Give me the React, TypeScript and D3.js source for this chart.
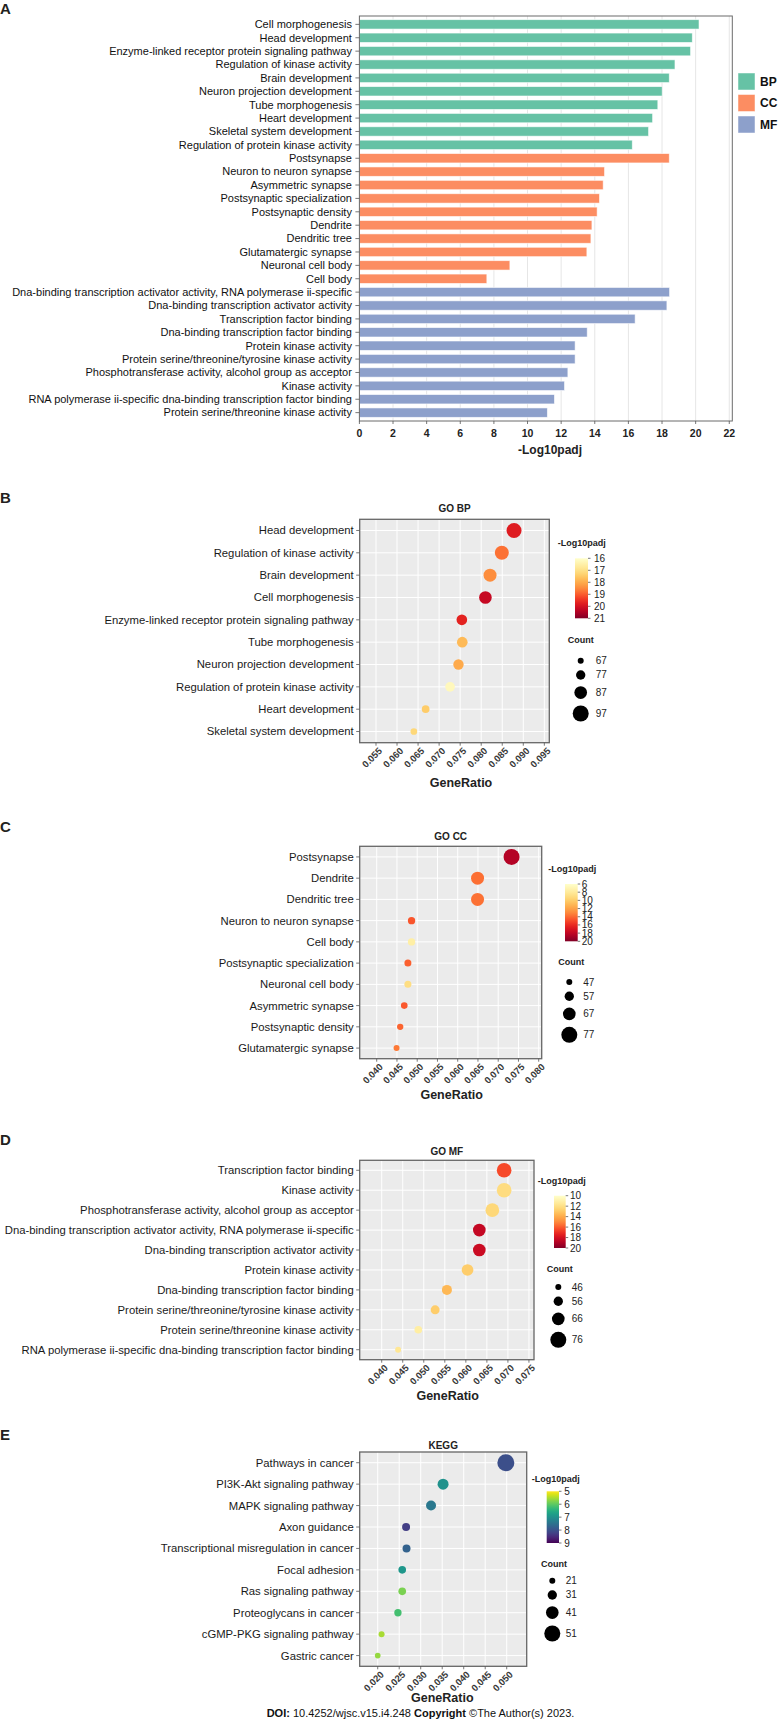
import React from 'react';
import * as d3 from 'd3';

// ---------------- Panel A data ----------------
const aTerms = [
  'Cell morphogenesis', 'Head development', 'Enzyme-linked receptor protein signaling pathway',
  'Regulation of kinase activity', 'Brain development', 'Neuron projection development',
  'Tube morphogenesis', 'Heart development', 'Skeletal system development',
  'Regulation of protein kinase activity',
  'Postsynapse', 'Neuron to neuron synapse', 'Asymmetric synapse', 'Postsynaptic specialization',
  'Postsynaptic density', 'Dendrite', 'Dendritic tree', 'Glutamatergic synapse',
  'Neuronal cell body', 'Cell body',
  'Dna-binding transcription activator activity, RNA polymerase ii-specific',
  'Dna-binding transcription activator activity', 'Transcription factor binding',
  'Dna-binding transcription factor binding', 'Protein kinase activity',
  'Protein serine/threonine/tyrosine kinase activity',
  'Phosphotransferase activity, alcohol group as acceptor', 'Kinase activity',
  'RNA polymerase ii-specific dna-binding transcription factor binding',
  'Protein serine/threonine kinase activity',
];
const aValues = [
  20.2, 19.8, 19.7, 18.77, 18.43, 18.01, 17.75, 17.44, 17.2, 16.23,
  18.43, 14.58, 14.5, 14.28, 14.14, 13.83, 13.77, 13.53, 8.95, 7.58,
  18.45, 18.29, 16.4, 13.55, 12.83, 12.83, 12.4, 12.2, 11.6, 11.18,
];
const aGroups = [
  'BP', 'BP', 'BP', 'BP', 'BP', 'BP', 'BP', 'BP', 'BP', 'BP',
  'CC', 'CC', 'CC', 'CC', 'CC', 'CC', 'CC', 'CC', 'CC', 'CC',
  'MF', 'MF', 'MF', 'MF', 'MF', 'MF', 'MF', 'MF', 'MF', 'MF',
];
const aTicks = [0, 2, 4, 6, 8, 10, 12, 14, 16, 18, 20, 22];
const groupNames = ['BP', 'CC', 'MF'];
const groupColors = ['#66c2a5', '#fc8d62', '#8da0cb'];

// ---------------- Panel B data (GO BP) ----------------
const bpTerms = [
  'Head development', 'Regulation of kinase activity', 'Brain development', 'Cell morphogenesis',
  'Enzyme-linked receptor protein signaling pathway', 'Tube morphogenesis',
  'Neuron projection development', 'Regulation of protein kinase activity',
  'Heart development', 'Skeletal system development',
];
const bpRatio = [0.0878, 0.0849, 0.0821, 0.081, 0.0754, 0.0755, 0.0746, 0.0726, 0.0668, 0.064];
const bpCount = [94, 91, 88, 87, 81, 81, 80, 78, 72, 69];
const bpPadj = [19.8, 18.77, 18.43, 20.2, 19.7, 17.75, 18.01, 16.23, 17.44, 17.2];
const bpRatioTicks = [0.055, 0.06, 0.065, 0.07, 0.075, 0.08, 0.085, 0.09, 0.095];
const bpPadjTicks = [16, 17, 18, 19, 20, 21];
const bpCountTicks = [67, 77, 87, 97];

// ---------------- Panel C data (GO CC) ----------------
const ccTerms = [
  'Postsynapse', 'Dendrite', 'Dendritic tree', 'Neuron to neuron synapse', 'Cell body',
  'Postsynaptic specialization', 'Neuronal cell body', 'Asymmetric synapse',
  'Postsynaptic density', 'Glutamatergic synapse',
];
const ccRatio = [0.0733, 0.0649, 0.0649, 0.0486, 0.0486, 0.0477, 0.0477, 0.0468, 0.0458, 0.0449];
const ccCount = [77, 68, 68, 51, 51, 50, 50, 49, 48, 47];
const ccPadj = [18.43, 13.83, 13.77, 14.58, 7.58, 14.28, 8.95, 14.5, 14.14, 13.53];
const ccRatioTicks = [0.04, 0.045, 0.05, 0.055, 0.06, 0.065, 0.07, 0.075, 0.08];
const ccPadjTicks = [6, 8, 10, 12, 14, 16, 18, 20];
const ccCountTicks = [47, 57, 67, 77];

// ---------------- Panel D data (GO MF) ----------------
const mfTerms = [
  'Transcription factor binding', 'Kinase activity',
  'Phosphotransferase activity, alcohol group as acceptor',
  'Dna-binding transcription activator activity, RNA polymerase ii-specific',
  'Dna-binding transcription activator activity', 'Protein kinase activity',
  'Dna-binding transcription factor binding', 'Protein serine/threonine/tyrosine kinase activity',
  'Protein serine/threonine kinase activity',
  'RNA polymerase ii-specific dna-binding transcription factor binding',
];
const mfRatio = [0.0691, 0.0691, 0.0663, 0.0632, 0.0632, 0.0604, 0.0555, 0.0527, 0.0487, 0.0439];
const mfCount = [72, 72, 69, 66, 66, 63, 58, 55, 51, 46];
const mfPadj = [16.4, 12.2, 12.4, 18.45, 18.29, 12.83, 13.55, 12.83, 11.18, 11.6];
const mfRatioTicks = [0.04, 0.045, 0.05, 0.055, 0.06, 0.065, 0.07, 0.075];
const mfPadjTicks = [10, 12, 14, 16, 18, 20];
const mfCountTicks = [46, 56, 66, 76];

// ---------------- Panel E data (KEGG) ----------------
const kgTerms = [
  'Pathways in cancer', 'PI3K-Akt signaling pathway', 'MAPK signaling pathway', 'Axon guidance',
  'Transcriptional misregulation in cancer', 'Focal adhesion', 'Ras signaling pathway',
  'Proteoglycans in cancer', 'cGMP-PKG signaling pathway', 'Gastric cancer',
];
const kgRatio = [0.0498, 0.0352, 0.0324, 0.0266, 0.0267, 0.0257, 0.0257, 0.0247, 0.0209, 0.02];
const kgCount = [54, 36, 33, 27, 27, 26, 26, 25, 21, 20];
const kgPadj = [8.04, 6.96, 7.4, 8.28, 7.76, 6.88, 5.8, 6.2, 5.52, 5.64];
const kgRatioTicks = [0.02, 0.025, 0.03, 0.035, 0.04, 0.045, 0.05];
const kgPadjTicks = [5, 6, 7, 8, 9];
const kgCountTicks = [21, 31, 41, 51];

// ---------------- styles ----------------
const SANS = "'Liberation Sans', Arial, sans-serif";
const INK = '#231f20';

const ylorrd = (t: number) => d3.interpolateYlOrRd(t);
const viridisRev = (t: number) => d3.interpolateViridis(1 - t);

function PanelA() {
  const L = 359.4, R = 732.3, T = 16, B = 421;
  const x = d3.scaleLinear().domain([0, 22.18]).range([L, R]);
  const y = d3.scaleBand<string>().domain(aTerms).range([T + 1, B - 1]).paddingInner(0.3).paddingOuter(0.2);
  const color = d3.scaleOrdinal<string, string>().domain(groupNames).range(groupColors);
  return (
    <g>
      <text x={0} y={14} fontFamily={SANS} fontWeight="bold" fontSize={15} fill={INK}>A</text>
      {aTicks.map(t => (
        <line key={'g' + t} x1={x(t)} x2={x(t)} y1={T} y2={B} stroke="#e6e6e6" strokeWidth={1} />
      ))}
      {aTerms.map((term, i) => (
        <rect key={term} x={x(0)} y={y(term)} width={x(aValues[i]) - x(0)} height={y.bandwidth()}
          fill={color(aGroups[i])} stroke="rgba(255,255,255,0.7)" strokeWidth={0.8} />
      ))}
      <rect x={L} y={T} width={R - L} height={B - T} fill="none" stroke="#6b6b6b" strokeWidth={1} />
      {aTerms.map(term => {
        const cy = (y(term) as number) + y.bandwidth() / 2;
        return (
          <g key={'l' + term}>
            <line x1={L - 4} x2={L} y1={cy} y2={cy} stroke="#555" strokeWidth={0.8} />
            <text x={L - 7.5} y={cy} dy="0.35em" textAnchor="end" fontFamily={SANS} fontSize={11} fill="#111">{term}</text>
          </g>
        );
      })}
      {aTicks.map(t => (
        <g key={'t' + t}>
          <line x1={x(t)} x2={x(t)} y1={B} y2={B + 3} stroke="#555" strokeWidth={0.8} />
          <text x={x(t)} y={437} textAnchor="middle" fontFamily={SANS} fontWeight="bold" fontSize={10.5} fill="#222">{t}</text>
        </g>
      ))}
      <text x={550} y={454} textAnchor="middle" fontFamily={SANS} fontWeight="bold" fontSize={12} fill="#222">-Log10padj</text>
      {groupNames.map((g, i) => (
        <g key={g}>
          <rect x={738} y={73 + i * 21.5} width={17} height={17} fill={groupColors[i]} stroke="rgba(255,255,255,0.6)" strokeWidth={0.8} />
          <text x={760} y={81.5 + i * 21.5} dy="0.36em" fontFamily={SANS} fontWeight="bold" fontSize={12} fill="#111">{g}</text>
        </g>
      ))}
    </g>
  );
}

type DotCfg = {
  id: string; letter: string; letterY: number; title: string;
  terms: string[]; ratio: number[]; count: number[]; padj: number[];
  ratioTicks: number[]; padjTicks: number[]; countTicks: number[];
  interp: (t: number) => string;
  L: number; R: number; T: number; B: number; xDomain: [number, number];
  titleY: number;
  cbX: number; cbW: number; cbT: number; cbB: number;
  lgX: number; lgY: number; cbLabelX: number;
  cntX: number; cntY: number; cntCx: number; cntCy0: number; cntLabelX: number;
  grX: number; grY: number;
};

function DotPanel({ c }: { c: DotCfg }) {
  const x = d3.scaleLinear().domain(c.xDomain).range([c.L, c.R]);
  const y = d3.scalePoint<string>().domain(c.terms).range([c.T, c.B]).padding(0.5);
  const lo = c.padjTicks[0], hi = c.padjTicks[c.padjTicks.length - 1];
  const color = d3.scaleSequential(c.interp).domain([lo, hi]);
  const cbY = d3.scaleLinear().domain([lo, hi]).range([c.cbT, c.cbB]);
  const r = d3.scaleLinear().domain([c.countTicks[0], c.countTicks[c.countTicks.length - 1]]).range([3, 8]);
  const cys: number[] = [];
  c.countTicks.forEach((v, i) => {
    if (i === 0) cys.push(c.cntCy0);
    else cys.push(cys[i - 1] + r(c.countTicks[i - 1]) + r(v) + 6.6);
  });
  const order = d3.range(c.terms.length).sort((a, b) => c.count[b] - c.count[a]);
  const stops = d3.range(0, 21).map(i => i / 20);
  const midX = (c.L + c.R) / 2;
  return (
    <g>
      <defs>
        <linearGradient id={'grad' + c.id} x1="0" y1="0" x2="0" y2="1">
          {stops.map(s => <stop key={s} offset={s} stopColor={c.interp(s)} />)}
        </linearGradient>
      </defs>
      <text x={0} y={c.letterY} fontFamily={SANS} fontWeight="bold" fontSize={15} fill={INK}>{c.letter}</text>
      <text x={c.grX === 0 ? midX : midX} y={c.titleY} textAnchor="middle" fontFamily={SANS} fontWeight="bold" fontSize={10} fill="#222">{c.title}</text>
      <rect x={c.L} y={c.T} width={c.R - c.L} height={c.B - c.T} fill="#ebebeb" />
      {c.ratioTicks.map(t => (
        <line key={'v' + t} x1={x(t)} x2={x(t)} y1={c.T} y2={c.B} stroke="#fff" strokeWidth={1} />
      ))}
      {c.terms.map(t => (
        <line key={'h' + t} x1={c.L} x2={c.R} y1={y(t)} y2={y(t)} stroke="#fff" strokeWidth={1} />
      ))}
      {order.map(i => (
        <circle key={'c' + i} cx={x(c.ratio[i])} cy={y(c.terms[i])} r={r(c.count[i])} fill={color(c.padj[i])} />
      ))}
      <rect x={c.L} y={c.T} width={c.R - c.L} height={c.B - c.T} fill="none" stroke="#666" strokeWidth={1.3} />
      {c.terms.map(t => (
        <g key={'yl' + t}>
          <line x1={c.L - 3.5} x2={c.L} y1={y(t)} y2={y(t)} stroke="#555" strokeWidth={0.8} />
          <text x={c.L - 6} y={y(t)} dy="0.35em" textAnchor="end" fontFamily={SANS} fontSize={11.3} fill="#1a1a1a">{t}</text>
        </g>
      ))}
      {c.ratioTicks.map(t => (
        <g key={'xl' + t}>
          <line x1={x(t)} x2={x(t)} y1={c.B} y2={c.B + 3} stroke="#555" strokeWidth={0.8} />
          <text transform={`translate(${x(t) + 2},${c.B + 4}) rotate(-45)`} dy="0.72em" textAnchor="end"
            fontFamily={SANS} fontWeight="bold" fontSize={9.5} fill="#3a3a3a">{t.toFixed(3)}</text>
        </g>
      ))}
      <text x={c.grX} y={c.grY} textAnchor="middle" fontFamily={SANS} fontWeight="bold" fontSize={12.5} fill="#222">GeneRatio</text>
      {/* colour legend */}
      <text x={c.lgX} y={c.lgY} fontFamily={SANS} fontWeight="bold" fontSize={9} fill="#222">-Log10padj</text>
      <rect x={c.cbX} y={c.cbT} width={c.cbW} height={c.cbB - c.cbT} fill={`url(#grad${c.id})`} />
      {c.padjTicks.map(t => (
        <g key={'cb' + t}>
          <line x1={c.cbX + c.cbW} x2={c.cbX + c.cbW + 2.5} y1={cbY(t)} y2={cbY(t)} stroke="#555" strokeWidth={0.8} />
          <text x={c.cbLabelX} y={cbY(t)} dy="0.35em" fontFamily={SANS} fontSize={10} fill="#222">{t}</text>
        </g>
      ))}
      {/* size legend */}
      <text x={c.cntX} y={c.cntY} fontFamily={SANS} fontWeight="bold" fontSize={9} fill="#222">Count</text>
      {c.countTicks.map((v, i) => (
        <g key={'n' + v}>
          <circle cx={c.cntCx} cy={cys[i]} r={r(v)} fill="#000" />
          <text x={c.cntLabelX} y={cys[i]} dy="0.35em" fontFamily={SANS} fontSize={10} fill="#222">{v}</text>
        </g>
      ))}
    </g>
  );
}

const panels: DotCfg[] = [
  {
    id: 'B', letter: 'B', letterY: 503, title: 'GO BP',
    terms: bpTerms, ratio: bpRatio, count: bpCount, padj: bpPadj,
    ratioTicks: bpRatioTicks, padjTicks: bpPadjTicks, countTicks: bpCountTicks, interp: ylorrd,
    L: 359.7, R: 549.3, T: 519.3, B: 742.7, xDomain: [0.05113, 0.09618], titleY: 512,
    cbX: 575, cbW: 13, cbT: 558.3, cbB: 618.3, lgX: 557.7, lgY: 546, cbLabelX: 594,
    cntX: 567.7, cntY: 642.5, cntCx: 580.7, cntCy0: 660.7, cntLabelX: 595.7,
    grX: 461, grY: 787,
  },
  {
    id: 'C', letter: 'C', letterY: 832, title: 'GO CC',
    terms: ccTerms, ratio: ccRatio, count: ccCount, padj: ccPadj,
    ratioTicks: ccRatioTicks, padjTicks: ccPadjTicks, countTicks: ccCountTicks, interp: ylorrd,
    L: 359.7, R: 541.7, T: 846.3, B: 1058.7, xDomain: [0.0358, 0.08074], titleY: 840,
    cbX: 565, cbW: 12.7, cbT: 884, cbB: 941.3, lgX: 548.3, lgY: 872, cbLabelX: 581.7,
    cntX: 558.3, cntY: 964.5, cntCx: 569.3, cntCy0: 982, cntLabelX: 583.3,
    grX: 451.7, grY: 1099,
  },
  {
    id: 'D', letter: 'D', letterY: 1145, title: 'GO MF',
    terms: mfTerms, ratio: mfRatio, count: mfCount, padj: mfPadj,
    ratioTicks: mfRatioTicks, padjTicks: mfPadjTicks, countTicks: mfCountTicks, interp: ylorrd,
    L: 359.7, R: 534, T: 1160.3, B: 1359.7, xDomain: [0.03477, 0.0762], titleY: 1155,
    cbX: 554, cbW: 11.7, cbT: 1195.7, cbB: 1248, lgX: 537.7, lgY: 1183.5, cbLabelX: 570,
    cntX: 546.7, cntY: 1271.5, cntCx: 558.3, cntCy0: 1287, cntLabelX: 571.7,
    grX: 447.7, grY: 1400,
  },
  {
    id: 'E', letter: 'E', letterY: 1440, title: 'KEGG',
    terms: kgTerms, ratio: kgRatio, count: kgCount, padj: kgPadj,
    ratioTicks: kgRatioTicks, padjTicks: kgPadjTicks, countTicks: kgCountTicks, interp: viridisRev,
    L: 359.7, R: 526.7, T: 1452, B: 1666.3, xDomain: [0.01581, 0.05465], titleY: 1448.5,
    cbX: 546.7, cbW: 12.3, cbT: 1491.3, cbB: 1543, lgX: 531.7, lgY: 1482, cbLabelX: 564.3,
    cntX: 541, cntY: 1566.5, cntCx: 552.3, cntCy0: 1580.7, cntLabelX: 565.7,
    grX: 442.3, grY: 1702,
  },
];

export default function App() {
  return (
    <svg width={779} height={1722} style={{ position: 'absolute', left: 0, top: 0, background: '#fff' }}>
      <rect x={0} y={0} width={779} height={1722} fill="#fff" />
      <PanelA />
      {panels.map(p => <DotPanel key={p.id} c={p} />)}
      <text x={420.5} y={1717} textAnchor="middle" fontFamily={SANS} fontSize={11} fill="#111">
        <tspan fontWeight="bold">DOI:</tspan>
        <tspan> 10.4252/wjsc.v15.i4.248 </tspan>
        <tspan fontWeight="bold">Copyright</tspan>
        <tspan> ©The Author(s) 2023.</tspan>
      </text>
    </svg>
  );
}
